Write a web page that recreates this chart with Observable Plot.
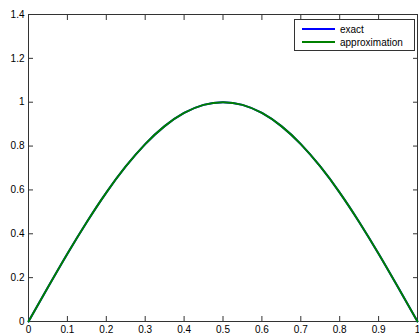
<!DOCTYPE html>
<html>
<head>
<meta charset="utf-8">
<script src="https://cdn.jsdelivr.net/npm/d3@7"></script>
<script src="https://cdn.jsdelivr.net/npm/@observablehq/plot@0.6"></script>
<style>
  body { margin: 0; background: #fff; }
  #wrap { position: relative; width: 419px; height: 335px; overflow: hidden; }
  #legend { position: absolute; left: 294px; top: 19px; width: 121px; height: 32px;
    border: 1px solid #333; background: #fff; box-sizing: border-box;
    font: 10px "Liberation Sans", Arial, sans-serif; color: #000; }
  .row { position: absolute; left: 7px; height: 12px; display: flex; align-items: center; }
  .sw { display: inline-block; width: 33px; height: 2px; margin-right: 5px; }
</style>
</head>
<body>
<div id="wrap">
  <div id="chart"></div>
  <div id="legend">
    <div class="row" style="top:3px"><span class="sw" style="background:#0000ff"></span><span>exact</span></div>
    <div class="row" style="top:16px"><span class="sw" style="background:#008000"></span><span>approximation</span></div>
  </div>
</div>
<script>
const xs = [0, 0.05, 0.1, 0.15, 0.2, 0.25, 0.3, 0.35, 0.4, 0.45, 0.5, 0.55, 0.6, 0.65, 0.7, 0.75, 0.8, 0.85, 0.9, 0.95, 1];
const exact = [0, 0.156, 0.309, 0.454, 0.588, 0.707, 0.809, 0.891, 0.951, 0.988, 1, 0.988, 0.951, 0.891, 0.809, 0.707, 0.588, 0.454, 0.309, 0.156, 0];
const approximation = [0, 0.156, 0.309, 0.454, 0.588, 0.707, 0.809, 0.891, 0.951, 0.988, 1, 0.988, 0.951, 0.891, 0.809, 0.707, 0.588, 0.454, 0.309, 0.156, 0];
const xTicks = [0, 0.1, 0.2, 0.3, 0.4, 0.5, 0.6, 0.7, 0.8, 0.9, 1];
const yTicks = [0, 0.2, 0.4, 0.6, 0.8, 1, 1.2, 1.4];

const exactData = xs.map((x, i) => ({x, y: exact[i]}));
const approxData = xs.map((x, i) => ({x, y: approximation[i]}));
const fmt = d => String(+d.toFixed(1));

const plot = Plot.plot({
  width: 419,
  height: 335,
  marginLeft: 28,
  marginRight: 2,
  marginTop: 14,
  marginBottom: 14,
  style: {fontFamily: "'Liberation Sans', Arial, sans-serif", fontSize: "10px", color: "#000", background: "#fff"},
  x: {domain: [0, 1]},
  y: {domain: [0, 1.4]},
  marks: [
    Plot.frame({stroke: "#333"}),
    Plot.axisX(xTicks, {anchor: "bottom", tickSize: -5, tickFormat: fmt, tickPadding: 9, label: null, stroke: "#333"}),
    Plot.axisX(xTicks, {anchor: "top", tickSize: -5, text: null, label: null, stroke: "#333"}),
    Plot.axisY(yTicks, {anchor: "left", tickSize: -5, tickFormat: fmt, tickPadding: 9, label: null, stroke: "#333"}),
    Plot.axisY(yTicks, {anchor: "right", tickSize: -5, text: null, label: null, stroke: "#333"}),
    Plot.line(exactData, {x: "x", y: "y", stroke: "#0000ff", strokeWidth: 2, curve: "natural"}),
    Plot.line(approxData, {x: "x", y: "y", stroke: "#008000", strokeWidth: 2, curve: "natural"})
  ]
});
document.getElementById("chart").appendChild(plot);
</script>
</body>
</html>
